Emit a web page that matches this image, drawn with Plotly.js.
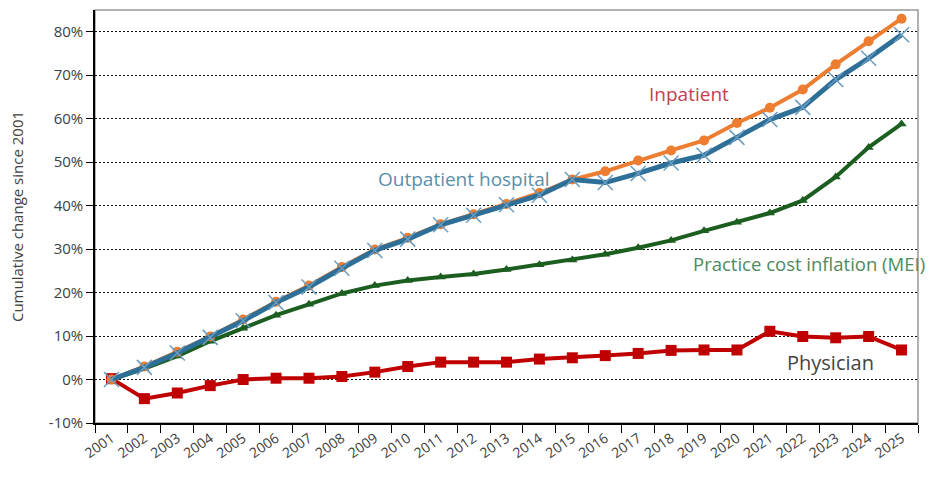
<!DOCTYPE html>
<html>
<head>
<meta charset="utf-8">
<script src="https://cdn.plot.ly/plotly-3.0.1.min.js"></script>
<style>html,body{margin:0;padding:0;background:#fff}#chart{width:932px;height:480px}</style>
</head>
<body>
<div id="chart"></div>
<script>
var years = ["2001","2002","2003","2004","2005","2006","2007","2008","2009","2010","2011","2012","2013","2014","2015","2016","2017","2018","2019","2020","2021","2022","2023","2024","2025"];
var inpatient   = [0, 3.0, 6.4, 9.9, 13.8, 17.9, 21.6, 25.9, 29.9, 32.6, 35.7, 38.0, 40.4, 42.9, 46.0, 47.9, 50.4, 52.7, 55.0, 59.0, 62.5, 66.7, 72.5, 77.8, 83.0];
var outpatient  = [0, 2.8, 6.1, 9.7, 13.5, 17.7, 21.3, 25.6, 29.7, 32.3, 35.6, 37.8, 40.2, 42.4, 46.0, 45.3, 47.4, 49.8, 51.6, 55.7, 59.8, 62.6, 69.0, 73.9, 79.3];
var mei         = [0, 2.5, 5.4, 8.8, 11.8, 14.8, 17.3, 19.8, 21.6, 22.8, 23.6, 24.3, 25.3, 26.4, 27.5, 28.8, 30.3, 32.0, 34.2, 36.2, 38.3, 41.2, 46.6, 53.4, 58.8];
var physician   = [0.2, -4.4, -3.1, -1.4, 0, 0.3, 0.3, 0.7, 1.7, 3.0, 4.0, 4.0, 4.0, 4.7, 5.0, 5.5, 6.0, 6.7, 6.8, 6.8, 11.1, 9.9, 9.6, 9.9, 6.8];
var yTickVals = [-10, 0, 10, 20, 30, 40, 50, 60, 70, 80];
var yTickText = ["-10%", "0%", "10%", "20%", "30%", "40%", "50%", "60%", "70%", "80%"];
var seriesLabels = ["Inpatient", "Outpatient hospital", "Practice cost inflation (MEI)", "Physician"];

var traces = [
  {x: years, y: physician, name: "Physician", type: "scatter", mode: "lines+markers",
   line: {color: "#C00000", width: 4}, marker: {symbol: "square", size: 11, color: "#C00000"}},
  {x: years, y: mei, name: "Practice cost inflation (MEI)", type: "scatter", mode: "lines+markers",
   line: {color: "#1B5E20", width: 4}, marker: {symbol: "triangle-up", size: 9, color: "#1B5E20"}},
  {x: years, y: inpatient, name: "Inpatient", type: "scatter", mode: "lines+markers",
   line: {color: "#ED7D31", width: 4}, marker: {symbol: "circle", size: 10, color: "#ED7D31"}},
  {x: years, y: outpatient, name: "Outpatient hospital", type: "scatter", mode: "lines+markers",
   line: {color: "#2E6F98", width: 5}, marker: {symbol: "x-thin-open", size: 15, color: "#6A9CC0", line: {width: 1.5, color: "#6A9CC0"}}}
];

var layout = {
  width: 932, height: 480,
  margin: {l: 95, r: 14, t: 10, b: 57},
  paper_bgcolor: "#fff", plot_bgcolor: "#fff",
  showlegend: false,
  font: {family: "Open Sans, sans-serif", color: "#404040", size: 14},
  xaxis: {
    type: "category", range: [-0.5, 24.5], tickson: "boundaries",
    ticks: "outside", ticklen: 8, tickcolor: "#000", tickwidth: 1,
    showline: true, linecolor: "#000", linewidth: 1.5,
    showgrid: false, tickangle: -35,
    tickfont: {size: 14, color: "#404040"}
  },
  yaxis: {
    range: [-10, 85], tickvals: yTickVals, ticktext: yTickText,
    ticks: "outside", ticklen: 7, tickcolor: "#000",
    showline: true, linecolor: "#000", linewidth: 1.5,
    showgrid: true, gridcolor: "#111", gridwidth: 1, griddash: "2px,2px",
    zeroline: false,
    tickfont: {size: 15, color: "#404040"},
    title: {text: "Cumulative change since 2001", font: {size: 15, color: "#404040"}, standoff: 22}
  },
  shapes: [
    {type: "rect", xref: "paper", yref: "paper", x0: 0, x1: 1, y0: 0, y1: 1,
     line: {color: "#999", width: 1.5}, layer: "below"}
  ],
  annotations: [
    {x: 17.55, y: 65.6, xref: "x", yref: "y", text: seriesLabels[0], showarrow: false,
     xanchor: "center", yanchor: "middle", font: {size: 19, color: "#C4414F"}},
    {x: 10.7, y: 46.1, xref: "x", yref: "y", text: seriesLabels[1], showarrow: false,
     xanchor: "center", yanchor: "middle", font: {size: 19, color: "#5A8FAA"}},
    {x: 21.2, y: 26.8, xref: "x", yref: "y", text: seriesLabels[2], showarrow: false,
     xanchor: "center", yanchor: "middle", font: {size: 18.5, color: "#4E8A5C"}},
    {x: 21.85, y: 3.9, xref: "x", yref: "y", text: seriesLabels[3], showarrow: false,
     xanchor: "center", yanchor: "middle", font: {size: 20, color: "#444444"}}
  ]
};

Plotly.newPlot("chart", traces, layout, {displayModeBar: false});
</script>
</body>
</html>
